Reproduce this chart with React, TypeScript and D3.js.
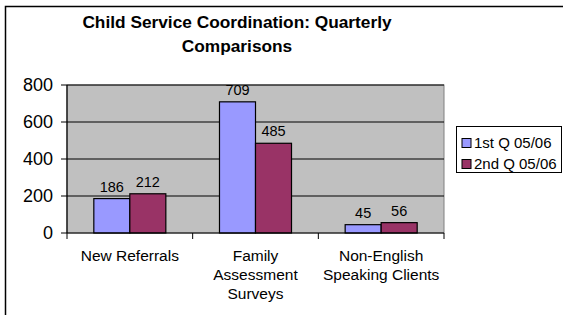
import React from 'react';
import { scaleBand, scaleLinear } from 'd3';

const categories = ['New Referrals', 'Family\nAssessment\nSurveys', 'Non-English\nSpeaking Clients'];
const seriesNames = ['1st Q 05/06', '2nd Q 05/06'];
const q1Values = [186, 709, 45];
const q2Values = [212, 485, 56];
const yTicks = [0, 200, 400, 600, 800];
const titleLines = ['Child Service Coordination: Quarterly', 'Comparisons'];

const colors = ['#9999FF', '#993366'];
const font = 'Arial, "Liberation Sans", sans-serif';

export default function App() {
  const width = 563;
  const height = 315;
  const plot = { left: 67, right: 444, top: 85, bottom: 233 };

  const x0 = scaleBand<string>().domain(categories).range([plot.left, plot.right]).padding(0);
  const x1 = scaleBand<string>().domain(seriesNames).range([0, x0.bandwidth()]).paddingInner(0).paddingOuter(0.745);
  const y = scaleLinear().domain([0, 800]).range([plot.bottom, plot.top]);

  const series = [q1Values, q2Values];

  return (
    <svg width={width} height={height} style={{ position: 'absolute', left: 0, top: 0, background: '#fff' }} fontFamily={font}>
      <rect x={5.5} y={6.5} width={600} height={400} fill="#fff" stroke="#000" strokeWidth={1.5} />

      {titleLines.map((t, i) => (
        <text key={t} x={237} y={28 + i * 24} textAnchor="middle" fontSize={17.3} fontWeight="bold" fill="#000">{t}</text>
      ))}

      <rect x={plot.left} y={plot.top} width={plot.right - plot.left} height={plot.bottom - plot.top} fill="#C0C0C0" stroke="#808080" strokeWidth={1} />

      {yTicks.slice(1).map(t => (
        <line key={t} x1={plot.left} x2={plot.right} y1={y(t)} y2={y(t)} stroke="#000" strokeWidth={1} />
      ))}

      {categories.map(c => seriesNames.map((s, si) => {
        const v = series[si][categories.indexOf(c)];
        const bx = (x0(c) ?? 0) + (x1(s) ?? 0);
        return (
          <g key={c + s}>
            <rect x={bx} y={y(v)} width={x1.bandwidth()} height={y(0) - y(v)} fill={colors[si]} stroke="#000" strokeWidth={1.2} />
            <text x={bx + x1.bandwidth() / 2} y={y(v) - 7} textAnchor="middle" fontSize={14.5} fill="#000">{v}</text>
          </g>
        );
      }))}

      {/* y axis */}
      <line x1={plot.left} x2={plot.left} y1={plot.top} y2={plot.bottom} stroke="#000" strokeWidth={1.2} />
      {yTicks.map(t => (
        <g key={t}>
          <line x1={plot.left - 6} x2={plot.left} y1={y(t)} y2={y(t)} stroke="#000" strokeWidth={1} />
          <text x={plot.left - 14} y={y(t)} dy="0.35em" textAnchor="end" fontSize={18} fill="#000">{t}</text>
        </g>
      ))}

      {/* x axis */}
      <line x1={plot.left} x2={plot.right} y1={plot.bottom} y2={plot.bottom} stroke="#000" strokeWidth={1.2} />
      {[...categories.map(c => x0(c) ?? 0), plot.right].map((tx, i) => (
        <line key={i} x1={tx} x2={tx} y1={plot.bottom} y2={plot.bottom + 6} stroke="#000" strokeWidth={1} />
      ))}
      {categories.map(c => (
        <text key={c} x={(x0(c) ?? 0) + x0.bandwidth() / 2} y={261} textAnchor="middle" fontSize={15.5} fill="#000">
          {c.split('\n').map((ln, i) => (
            <tspan key={i} x={(x0(c) ?? 0) + x0.bandwidth() / 2} dy={i === 0 ? 0 : 19}>{ln}</tspan>
          ))}
        </text>
      ))}

      {/* legend */}
      <rect x={456.5} y={126.5} width={105} height={46} fill="#fff" stroke="#000" strokeWidth={1} />
      {seriesNames.map((s, i) => (
        <g key={s} transform={`translate(462,${143 + i * 21})`}>
          <rect x={0} y={-4.5} width={9} height={9} fill={colors[i]} stroke="#000" strokeWidth={1} />
          <text x={12} y={0} dy="0.35em" fontSize={15} fill="#000">{s}</text>
        </g>
      ))}
    </svg>
  );
}
